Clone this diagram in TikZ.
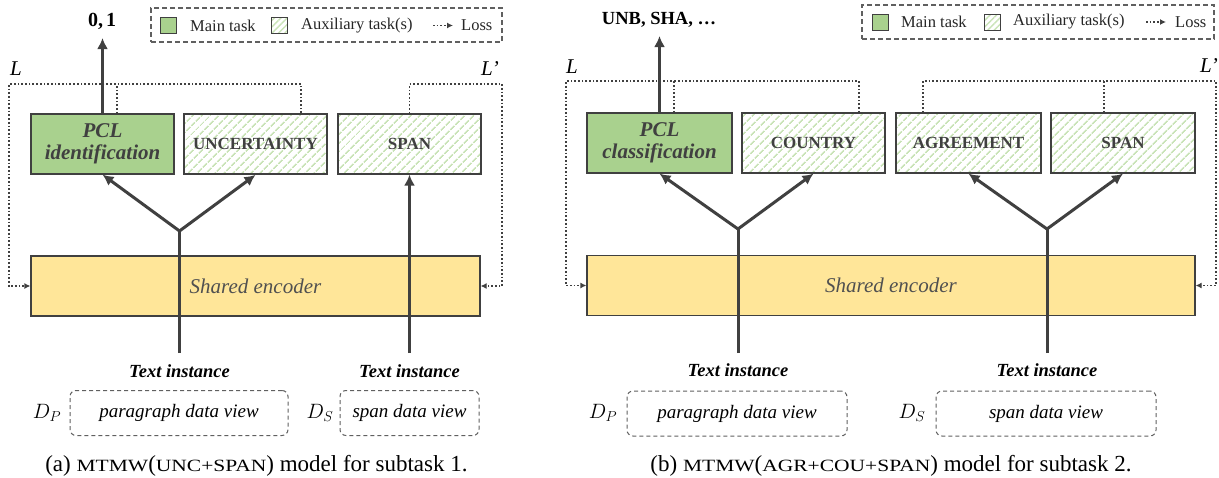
\documentclass[tikz,border=0pt]{standalone}
\usepackage{fontspec}
\setmainfont{Liberation Serif}
\usetikzlibrary{arrows.meta,patterns.meta,calc}
\definecolor{maingreen}{HTML}{A9D18E}
\definecolor{hatchgreen}{HTML}{C9E3B7}
\definecolor{encyellow}{HTML}{FFE699}
\definecolor{dgray}{HTML}{404040}
\definecolor{lgray}{HTML}{505050}
\definecolor{bgray}{HTML}{606060}
\newcommand{\fsc}[1]{\scalebox{1}[0.8]{\fontsize{21.5}{24}\selectfont #1}}
\tikzset{
  x=1pt, y=1pt,
  task/.style={draw=dgray, line width=1.2pt, minimum width=143pt, minimum height=60pt,
    inner sep=0pt, align=center, text=dgray},
  maintask/.style={task, fill=maingreen, font=\fontsize{21}{24}\selectfont\bfseries\itshape},
  auxtask/.style={task, pattern={Lines[angle=45,distance=6.5pt,line width=1.8pt]},
    pattern color=hatchgreen, font=\fontsize{17}{20}\selectfont\bfseries},
  encoder/.style={draw=dgray, line width=1.2pt, fill=encyellow, minimum height=60pt,
    inner sep=0pt, font=\fontsize{21}{24}\selectfont\itshape, text=lgray},
  flow/.style={draw=dgray, line width=3pt, -{Latex[length=11pt,width=11pt]}},
  stem/.style={draw=dgray, line width=3pt},
  loss/.style={draw=dgray, line width=1.7pt, dotted},
  losstip/.style={loss, -{Latex[length=6pt,width=6pt]}},
  instlabel/.style={font=\fontsize{18.5}{22}\selectfont\bfseries\itshape, inner sep=0pt},
  viewbox/.style={draw=bgray, line width=1pt, dash pattern=on 4pt off 3pt, rounded corners=6pt,
    minimum height=45pt, inner sep=0pt, font=\fontsize{19}{22}\selectfont\itshape},
  dlabel/.style={font=\fontsize{22}{26}\selectfont, inner sep=0pt},
  legbox/.style={draw=bgray, line width=1.2pt, dash pattern=on 5pt off 3pt},
  legtext/.style={font=\fontsize{16.5}{20}\selectfont, anchor=west, inner sep=0pt, text=black!85},
  legsq/.style={draw=dgray, line width=0.8pt, minimum width=16pt, minimum height=16pt, inner sep=0pt},
  leghatch/.style={legsq, pattern={Lines[angle=45,distance=4.5pt,line width=1.4pt]}, pattern color=hatchgreen},
  lossname/.style={font=\fontsize{21}{24}\selectfont\itshape, inner sep=0pt},
  outlabel/.style={font=\fontsize{18.5}{22}\selectfont\bfseries, inner sep=0pt},
  caption/.style={font=\fontsize{23}{26}\selectfont, inner sep=0pt}
}
\begin{document}
\begin{tikzpicture}
\useasboundingbox (0,0) rectangle (1219,-477);

% ===================== Panel (a) =====================
% legend
\node[legbox, minimum width=351pt, minimum height=34pt, inner sep=0pt] (lega) at (326.5,-25) {};
\node[legsq, fill=maingreen] (lega1) at (168.5,-25.5) {};
\node[legtext] (lega1t) at (190,-25.5) {Main task};
\node[leghatch] (lega2) at (279.5,-25.5) {};
\node[legtext] (lega2t) at (301,-25.5) {Auxiliary task(s)};
\coordinate (lega3s) at (433,-25.5);
\coordinate (lega3e) at (453,-25.5);
\draw[losstip, line width=1.4pt] (lega3s) -- (lega3e);
\node[legtext] (lega3t) at (461,-25.5) {Loss};

% task boxes
\node[maintask] (pcla) at (102.5,-144) {PCL\\[-2pt]identification};
\node[auxtask] (unca) at (255.5,-144) {UNCERTAINTY};
\node[auxtask] (spana) at (409.5,-144) {SPAN};
% encoder
\node[encoder, minimum width=449pt] (enca) at (255.5,-286) {Shared encoder};

% output
\node[outlabel, font=\fontsize{20}{22}\selectfont\bfseries] (outa) at (102,-21) {0,\hspace{3pt}1};
\coordinate (outatip) at (102.5,-38);
\draw[flow] (pcla.north) -- (outatip);

% loss labels
\node[lossname] (La) at (16,-69) {L};
\node[lossname] (Lpa) at (490,-69) {L’};

% loss lines
\coordinate (la1) at (9,-84);
\coordinate (la2) at (502,-84);
\draw[losstip] ([xshift=45.5pt]unca.north) |- (la1) |- (enca.west);
\draw[loss] ([xshift=14.5pt]pcla.north) -- ([xshift=14.5pt]pcla.north |- la1);
\draw[losstip] (spana.north) |- (la2) |- (enca.east);

% flows
\coordinate (forka) at (179.5,-231);
\coordinate (bota) at (179.5,-353);
\coordinate (botb) at (409.5,-353);
\draw[stem] (bota) -- (forka);
\draw[flow] (forka) -- (pcla.south);
\draw[flow] (forka) -- (unca.south);
\draw[flow] (botb) -- (spana.south);

% inputs
\node[instlabel] (tia) at (179.5,-371) {Text instance};
\node[instlabel] (tib) at (409.5,-371) {Text instance};
\node[dlabel] (dpa) at (47,-413) {$D_P$};
\node[viewbox, minimum width=218pt] (pva) at (179,-413) {paragraph data view};
\node[dlabel] (dsa) at (320,-413) {$D_S$};
\node[viewbox, minimum width=139pt] (sva) at (409.5,-413) {span data view};

\node[caption] (capa) at (256.5,-466) {(a) \fsc{MTMW}(\fsc{UNC+SPAN}) model for subtask 1.};

% ===================== Panel (b) =====================
\node[legbox, minimum width=352pt, minimum height=34pt, inner sep=0pt] (legb) at (1038,-22) {};
\node[legsq, fill=maingreen] (legb1) at (880,-22) {};
\node[legtext] (legb1t) at (901,-22) {Main task};
\node[leghatch] (legb2) at (992.5,-22) {};
\node[legtext] (legb2t) at (1013,-22) {Auxiliary task(s)};
\coordinate (legb3s) at (1146,-22);
\coordinate (legb3e) at (1166,-22);
\draw[losstip, line width=1.4pt] (legb3s) -- (legb3e);
\node[legtext] (legb3t) at (1175,-22) {Loss};

\node[maintask, minimum width=145pt] (pclb) at (659.5,-143) {PCL\\[-2pt]classification};
\node[auxtask, minimum width=143pt] (coub) at (813.5,-143) {COUNTRY};
\node[auxtask, minimum width=145pt] (agrb) at (968.5,-143) {AGREEMENT};
\node[auxtask, minimum width=144pt] (spanb) at (1123,-143) {SPAN};
\node[encoder, minimum width=608pt] (encb) at (891,-285.5) {Shared encoder};

\node[outlabel] (outb) at (659,-20) {UNB, SHA, …};
\coordinate (outbtip) at (659.5,-36);
\draw[flow] (pclb.north) -- (outbtip);

\node[lossname] (Lb) at (572,-67) {L};
\node[lossname] (Lpb) at (1209,-66) {L’};

\coordinate (lb1) at (566,-81);
\coordinate (lb2) at (1216,-81);
\draw[losstip] ([xshift=45.5pt]coub.north) |- (lb1) |- (encb.west);
\draw[loss] ([xshift=14.5pt]pclb.north) -- ([xshift=14.5pt]pclb.north |- lb1);
\draw[losstip] ([xshift=-45.5pt]agrb.north) |- (lb2) |- (encb.east);
\draw[loss] ([xshift=-19pt]spanb.north) -- ([xshift=-19pt]spanb.north |- lb2);

\coordinate (forkb1) at (738,-229);
\coordinate (forkb2) at (1047,-229);
\coordinate (botb1) at (738,-353);
\coordinate (botb2) at (1047,-353);
\draw[stem] (botb1) -- (forkb1);
\draw[stem] (botb2) -- (forkb2);
\draw[flow] (forkb1) -- (pclb.south);
\draw[flow] (forkb1) -- (coub.south);
\draw[flow] (forkb2) -- (agrb.south);
\draw[flow] (forkb2) -- (spanb.south);

\node[instlabel] (tib1) at (738,-370) {Text instance};
\node[instlabel] (tib2) at (1047,-370) {Text instance};
\node[dlabel] (dpb) at (603,-413) {$D_P$};
\node[viewbox, minimum width=220pt] (pvb) at (737,-413.5) {paragraph data view};
\node[dlabel] (dsb) at (912,-413) {$D_S$};
\node[viewbox, minimum width=220pt] (svb) at (1046,-413.5) {span data view};

\node[caption] (capb) at (891,-466) {(b) \fsc{MTMW}(\fsc{AGR+COU+SPAN}) model for subtask 2.};
\end{tikzpicture}
\end{document}
